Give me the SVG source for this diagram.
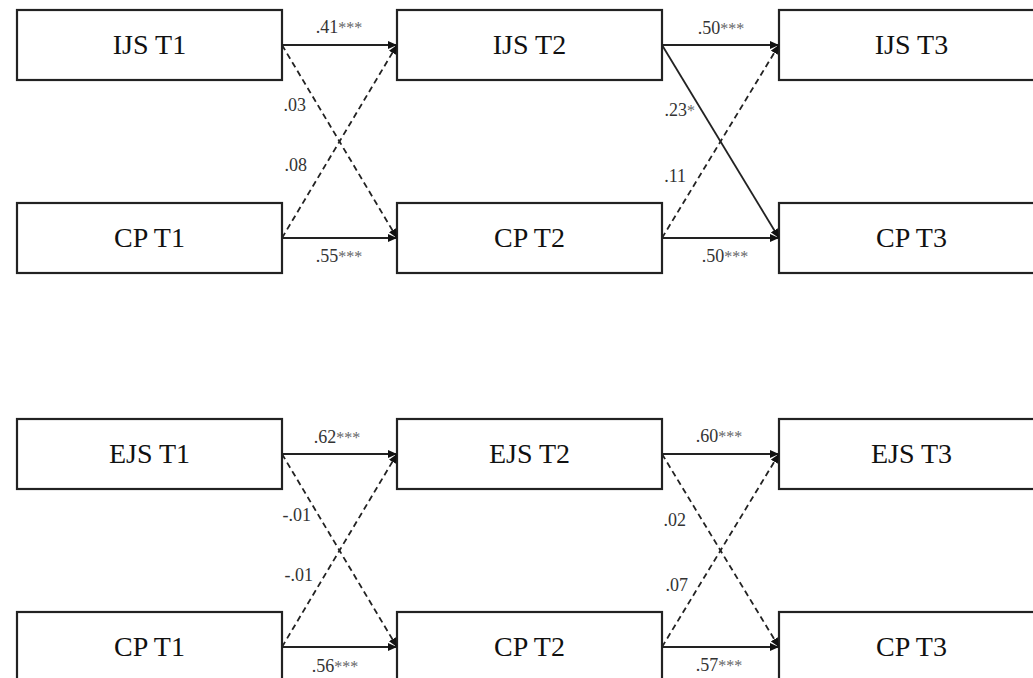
<svg xmlns="http://www.w3.org/2000/svg" width="1033" height="678" viewBox="0 0 1033 678">
<style>
.box{fill:#fff;stroke:#222;stroke-width:2.2}
.bt{font-family:"Liberation Serif","Times New Roman",serif;font-size:28px;fill:#111;text-anchor:middle}
.lb{font-family:"Liberation Serif","Times New Roman",serif;font-size:18px;fill:#333}
.lc{text-anchor:middle}
.le{text-anchor:end}
.st{fill:#666;font-size:16px}
.solid{stroke:#222;stroke-width:2.2;fill:none}
.diag{stroke:#222;stroke-width:1.8;fill:none}
.dash{stroke:#222;stroke-width:1.8;fill:none;stroke-dasharray:6 4}
</style>
<defs>
<marker id="ah" markerUnits="userSpaceOnUse" markerWidth="9" markerHeight="8" refX="9" refY="4" orient="auto">
<path d="M0,0 L9,4 L0,8 z" fill="#111"/>
</marker>
</defs>
<g id="n-ijs-t1"><rect class="box" x="17" y="10" width="265" height="70"/><text class="bt" x="149.5" y="54">IJS T1</text></g>
<g id="n-ijs-t2"><rect class="box" x="397" y="10" width="265" height="70"/><text class="bt" x="529.5" y="54">IJS T2</text></g>
<g id="n-ijs-t3"><rect class="box" x="779" y="10" width="265" height="70"/><text class="bt" x="911.5" y="54">IJS T3</text></g>
<g id="n-cp-t1a"><rect class="box" x="17" y="203" width="265" height="70"/><text class="bt" x="149.5" y="247">CP T1</text></g>
<g id="n-cp-t2a"><rect class="box" x="397" y="203" width="265" height="70"/><text class="bt" x="529.5" y="247">CP T2</text></g>
<g id="n-cp-t3a"><rect class="box" x="779" y="203" width="265" height="70"/><text class="bt" x="911.5" y="247">CP T3</text></g>
<g id="n-ejs-t1"><rect class="box" x="17" y="419" width="265" height="70"/><text class="bt" x="149.5" y="463">EJS T1</text></g>
<g id="n-ejs-t2"><rect class="box" x="397" y="419" width="265" height="70"/><text class="bt" x="529.5" y="463">EJS T2</text></g>
<g id="n-ejs-t3"><rect class="box" x="779" y="419" width="265" height="70"/><text class="bt" x="911.5" y="463">EJS T3</text></g>
<g id="n-cp-t1b"><rect class="box" x="17" y="612" width="265" height="70"/><text class="bt" x="149.5" y="656">CP T1</text></g>
<g id="n-cp-t2b"><rect class="box" x="397" y="612" width="265" height="70"/><text class="bt" x="529.5" y="656">CP T2</text></g>
<g id="n-cp-t3b"><rect class="box" x="779" y="612" width="265" height="70"/><text class="bt" x="911.5" y="656">CP T3</text></g>
<g id="connectors">
<line class="solid" x1="282" y1="45" x2="397" y2="45" marker-end="url(#ah)"/>
<line class="solid" x1="282" y1="238" x2="397" y2="238" marker-end="url(#ah)"/>
<line class="dash" x1="282" y1="45" x2="397" y2="238" marker-end="url(#ah)"/>
<line class="dash" x1="282" y1="238" x2="397" y2="45" marker-end="url(#ah)"/>
<line class="solid" x1="662" y1="45" x2="779" y2="45" marker-end="url(#ah)"/>
<line class="solid" x1="662" y1="238" x2="779" y2="238" marker-end="url(#ah)"/>
<line class="diag" x1="662" y1="45" x2="779" y2="238" marker-end="url(#ah)"/>
<line class="dash" x1="662" y1="238" x2="779" y2="45" marker-end="url(#ah)"/>
<line class="solid" x1="282" y1="454" x2="397" y2="454" marker-end="url(#ah)"/>
<line class="solid" x1="282" y1="647" x2="397" y2="647" marker-end="url(#ah)"/>
<line class="dash" x1="282" y1="454" x2="397" y2="647" marker-end="url(#ah)"/>
<line class="dash" x1="282" y1="647" x2="397" y2="454" marker-end="url(#ah)"/>
<line class="solid" x1="662" y1="454" x2="779" y2="454" marker-end="url(#ah)"/>
<line class="solid" x1="662" y1="647" x2="779" y2="647" marker-end="url(#ah)"/>
<line class="dash" x1="662" y1="454" x2="779" y2="647" marker-end="url(#ah)"/>
<line class="dash" x1="662" y1="647" x2="779" y2="454" marker-end="url(#ah)"/>
</g>
<g id="labels">
<text class="lb lc" x="339" y="33">.41<tspan class="st">***</tspan></text>
<text class="lb lc" x="339" y="262">.55<tspan class="st">***</tspan></text>
<text class="lb le" x="306" y="111">.03</text>
<text class="lb le" x="307" y="171">.08</text>
<text class="lb lc" x="721" y="34">.50<tspan class="st">***</tspan></text>
<text class="lb lc" x="725" y="262">.50<tspan class="st">***</tspan></text>
<text class="lb le" x="695" y="116">.23<tspan class="st">*</tspan></text>
<text class="lb le" x="686" y="182">.11</text>
<text class="lb lc" x="337" y="443">.62<tspan class="st">***</tspan></text>
<text class="lb lc" x="335" y="672">.56<tspan class="st">***</tspan></text>
<text class="lb le" x="311" y="521">-.01</text>
<text class="lb le" x="313" y="581">-.01</text>
<text class="lb lc" x="719" y="442">.60<tspan class="st">***</tspan></text>
<text class="lb lc" x="719" y="671">.57<tspan class="st">***</tspan></text>
<text class="lb le" x="686" y="526">.02</text>
<text class="lb le" x="688" y="591">.07</text>
</g>
</svg>
